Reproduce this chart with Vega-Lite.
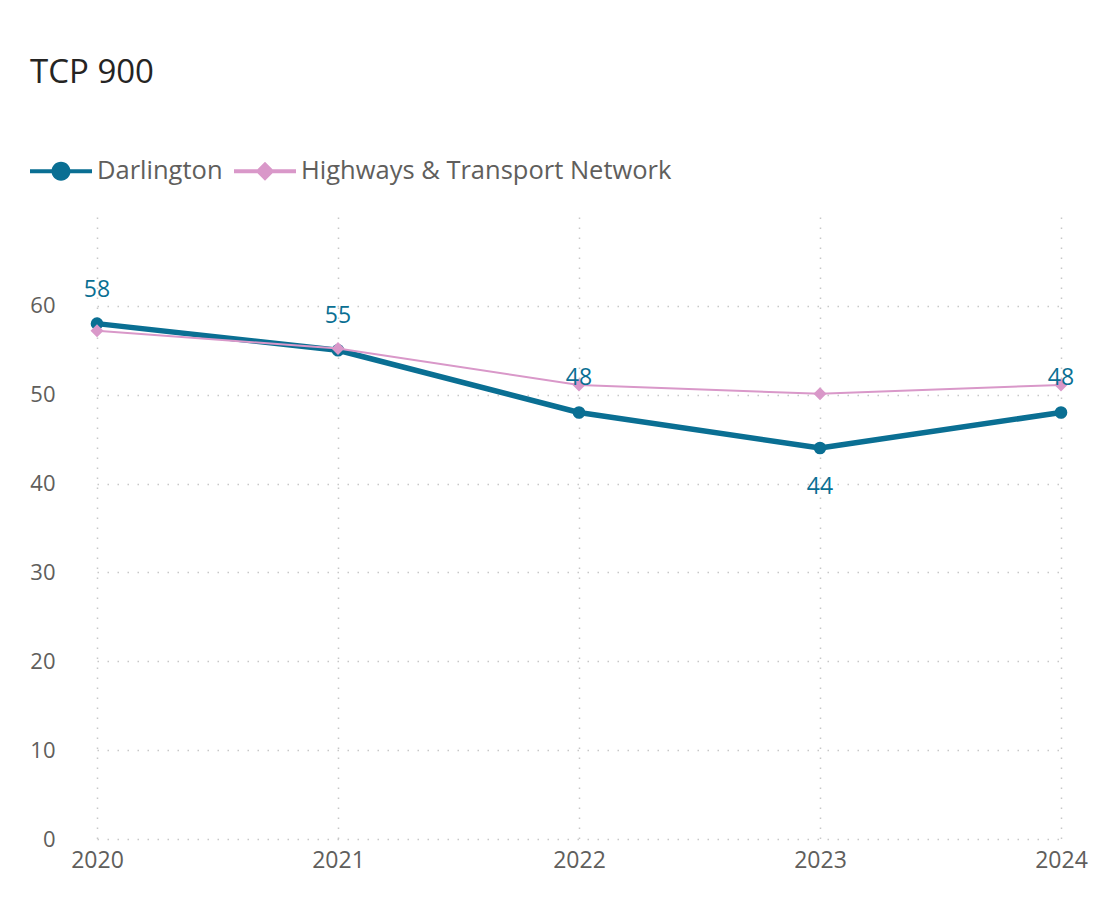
{
  "$schema": "https://vega.github.io/schema/vega-lite/v6.json",
  "width": 1004,
  "height": 622,
  "autosize": {"type": "none"},
  "padding": {"left": 72, "top": 217, "right": 22, "bottom": 62},
  "background": "white",
  "title": {
    "text": "TCP 900",
    "anchor": "start",
    "frame": "group",
    "dx": -42,
    "offset": 50,
    "font": "Open Sans",
    "fontSize": 33,
    "fontWeight": "normal",
    "color": "#252423"
  },
  "data": {
    "values": [
      {"year": 2020, "series": "Darlington", "value": 58},
      {"year": 2021, "series": "Darlington", "value": 55},
      {"year": 2022, "series": "Darlington", "value": 48},
      {"year": 2023, "series": "Darlington", "value": 44},
      {"year": 2024, "series": "Darlington", "value": 48},
      {"year": 2020, "series": "Highways & Transport Network", "value": 57.2},
      {"year": 2021, "series": "Highways & Transport Network", "value": 55.2},
      {"year": 2022, "series": "Highways & Transport Network", "value": 51.1},
      {"year": 2023, "series": "Highways & Transport Network", "value": 50.1},
      {"year": 2024, "series": "Highways & Transport Network", "value": 51.1}
    ]
  },
  "encoding": {
    "x": {
      "field": "year",
      "type": "ordinal",
      "scale": {"type": "point", "padding": 0, "range": [25, 989]},
      "axis": {
        "title": null,
        "labelAngle": 0,
        "domain": false,
        "ticks": false,
        "labelFont": "Open Sans",
        "labelFontSize": 23,
        "labelColor": "#605E5C",
        "labelPadding": 10,
        "grid": true,
        "gridColor": "#c8c8c8",
        "gridDash": [1.5, 8.5],
        "gridWidth": 1.5
      }
    },
    "y": {
      "field": "value",
      "type": "quantitative",
      "scale": {"domain": [0, 70], "nice": false},
      "axis": {
        "title": null,
        "values": [0, 10, 20, 30, 40, 50, 60],
        "domain": false,
        "ticks": false,
        "labelFont": "Open Sans",
        "labelFontSize": 22,
        "labelColor": "#605E5C",
        "labelPadding": 17,
        "grid": true,
        "gridColor": "#c8c8c8",
        "gridDash": [1.5, 8.5],
        "gridWidth": 1.5
      }
    }
  },
  "layer": [
    {
      "transform": [{"filter": "datum.series == 'Darlington'"}],
      "mark": {"type": "line", "color": "#0a6f93", "strokeWidth": 5.5, "strokeCap": "round", "strokeJoin": "round"}
    },
    {
      "transform": [{"filter": "datum.series == 'Darlington'"}],
      "mark": {"type": "point", "shape": "circle", "filled": true, "color": "#0a6f93", "size": 160, "opacity": 1}
    },
    {
      "transform": [{"filter": "datum.series == 'Highways & Transport Network'"}],
      "mark": {"type": "line", "color": "#d998c9", "strokeWidth": 2}
    },
    {
      "transform": [{"filter": "datum.series == 'Highways & Transport Network'"}],
      "mark": {"type": "point", "shape": "diamond", "filled": true, "color": "#d998c9", "size": 170, "opacity": 1}
    },
    {
      "transform": [{"filter": "false"}],
      "mark": {"type": "point", "filled": true, "opacity": 1},
      "encoding": {
        "color": {
          "field": "series",
          "type": "nominal",
          "scale": {"domain": ["Darlington", "Highways & Transport Network"], "range": ["#0a6f93", "#d998c9"]},
          "legend": {"title": null}
        },
        "shape": {
          "field": "series",
          "type": "nominal",
          "scale": {
            "domain": ["Darlington", "Highways & Transport Network"],
            "range": [
              "M-1,-0.065H1V0.065H-1ZM-0.306,0A0.306,0.306,0,1,1,0.306,0A0.306,0.306,0,1,1,-0.306,0Z",
              "M-1,-0.065H1V0.065H-1ZM-0.306,0L0,-0.306L0.306,0L0,0.306Z"
            ]
          },
          "legend": {"title": null}
        }
      }
    },
    {
      "transform": [{"filter": "datum.series == 'Darlington' && datum.year != 2023"}],
      "mark": {"type": "text", "dy": -34, "font": "Open Sans", "fontSize": 23, "color": "#0a6f93"},
      "encoding": {"text": {"field": "value", "type": "quantitative"}}
    },
    {
      "transform": [{"filter": "datum.series == 'Darlington' && datum.year == 2023"}],
      "mark": {"type": "text", "dy": 39, "font": "Open Sans", "fontSize": 23, "color": "#0a6f93"},
      "encoding": {"text": {"field": "value", "type": "quantitative"}}
    }
  ],
  "config": {
    "view": {"stroke": null},
    "legend": {
      "orient": "none",
      "legendX": -42,
      "legendY": -77,
      "direction": "horizontal",
      "labelFont": "Open Sans",
      "labelFontSize": 25.5,
      "labelColor": "#605E5C",
      "symbolSize": 3844,
      "symbolStrokeWidth": 0,
      "labelOffset": 5,
      "columnPadding": 11,
      "labelLimit": 500
    }
  }
}
